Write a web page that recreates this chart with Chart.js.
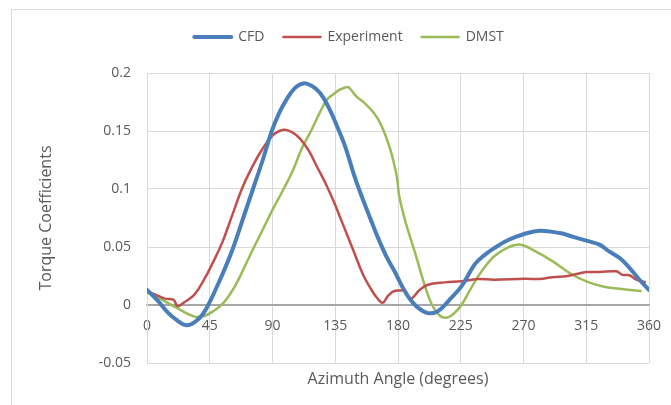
<!DOCTYPE html>
<html>
<head>
<meta charset="utf-8">
<script src="https://cdn.jsdelivr.net/npm/chart.js@4"></script>
<style>
  html, body { margin: 0; padding: 0; background: #ffffff; }
  #wrap { width: 671px; height: 405px; }
</style>
</head>
<body>
<div id="wrap"><canvas id="c" width="671" height="405"></canvas></div>
<script>
const seriesNames = ['CFD', 'Experiment', 'DMST'];

const cfdAngles = [0, 8, 15, 22, 28, 34, 40, 46, 50, 55, 62, 69, 76, 83, 89.5, 95, 100, 106, 112, 118, 124, 130, 136, 142, 148, 152, 160, 166, 172, 178, 183, 188, 194, 201.5, 209, 218, 225.5, 235, 242, 249, 259, 270, 281.5, 296, 305, 315, 324.5, 331.7, 339, 346, 353, 360];
const cfdValues = [0.013, 0.0034, -0.0066, -0.0137, -0.0175, -0.015, -0.008, 0.005, 0.0155, 0.029, 0.05, 0.075, 0.1, 0.125, 0.15, 0.166, 0.177, 0.187, 0.191, 0.189, 0.183, 0.171, 0.155, 0.137, 0.114, 0.1, 0.075, 0.057, 0.041, 0.028, 0.016, 0.006, -0.002, -0.007, -0.005, 0.006, 0.016, 0.035, 0.043, 0.049, 0.056, 0.061, 0.064, 0.062, 0.059, 0.0555, 0.052, 0.046, 0.0405, 0.032, 0.022, 0.013];

const expAngles = [0, 6, 13, 19, 22, 27, 34, 41, 47, 54, 61, 68, 75, 82, 90, 98, 104, 110, 116, 122, 128, 134, 140, 148, 155, 160, 165, 169, 173, 177, 181, 185, 189, 195.5, 201.5, 213.5, 225.5, 237, 249, 271, 281.5, 291, 300.6, 308, 315, 324.5, 336.5, 341, 346, 351, 357];
const expValues = [0.012, 0.009, 0.0055, 0.0045, -0.001, 0.0026, 0.009, 0.022, 0.036, 0.054, 0.077, 0.1, 0.118, 0.133, 0.146, 0.151, 0.149, 0.143, 0.133, 0.119, 0.105, 0.089, 0.071, 0.047, 0.026, 0.015, 0.006, 0.002, 0.008, 0.012, 0.0125, 0.012, 0.0055, 0.013, 0.0175, 0.0195, 0.0204, 0.0224, 0.0218, 0.0227, 0.0224, 0.024, 0.0247, 0.0267, 0.0284, 0.0284, 0.029, 0.026, 0.0256, 0.0218, 0.0198];

const dmstAngles = [0, 10, 22, 34, 41, 48, 55, 63, 70, 76, 83, 90, 98, 105, 111, 118, 124, 129, 134, 139, 144, 146, 150, 157, 163, 168, 174, 177.5, 179.5, 181, 186, 192, 199, 204, 209, 214, 219.5, 225.5, 232.6, 240, 249, 259, 268, 279, 291, 303, 315, 327, 339, 354];
const dmstValues = [0.011, 0.005, -0.003, -0.010, -0.0095, -0.005, 0.002, 0.016, 0.033, 0.048, 0.065, 0.082, 0.1, 0.117, 0.135, 0.151, 0.166, 0.177, 0.182, 0.186, 0.188, 0.186, 0.180, 0.173, 0.165, 0.155, 0.136, 0.12, 0.108, 0.093, 0.069, 0.046, 0.0175, 0.001, -0.008, -0.011, -0.008, 0.000, 0.015, 0.029, 0.042, 0.0497, 0.052, 0.046, 0.0376, 0.0276, 0.0204, 0.016, 0.014, 0.012];

const xTickValues = [0, 45, 90, 135, 180, 225, 270, 315, 360];
const xTickLabels = ['0', '45', '90', '135', '180', '225', '270', '315', '360'];
const yTickValues = [-0.05, 0, 0.05, 0.1, 0.15, 0.2];
const yTickLabels = ['-0.05', '0', '0.05', '0.1', '0.15', '0.2'];

const xTitle = 'Azimuth Angle (degrees)';
const yTitle = 'Torque Coefficients';

function pairs(xs, ys) { return xs.map((x, i) => ({ x: x, y: ys[i] })); }

const TEXT = '#595959';
const GRID = '#d9d9d9';
const FONT = "'Open Sans', 'Noto Sans', sans-serif";

const frameAndTitles = {
  id: 'frameAndTitles',
  beforeDraw(chart) {
    const ctx = chart.ctx;
    ctx.save();
    ctx.strokeStyle = GRID;
    ctx.lineWidth = 1;
    ctx.strokeRect(11.5, 9.5, 760, 500);
    ctx.restore();
  },
  afterDraw(chart) {
    const ctx = chart.ctx;
    const a = chart.chartArea;
    ctx.save();
    ctx.fillStyle = TEXT;
    ctx.font = "16px " + FONT;
    ctx.textAlign = 'center';
    ctx.textBaseline = 'middle';
    ctx.fillText(xTitle, (a.left + a.right) / 2, 379);
    ctx.translate(46, (a.top + a.bottom) / 2);
    ctx.rotate(-Math.PI / 2);
    ctx.fillText(yTitle, 0, 0);
    ctx.restore();
  }
};

const colors = ['#4a7ebb', '#c0504d', '#9bbb59'];
const widths = [4, 2.5, 2.5];
const dataSets = [pairs(cfdAngles, cfdValues), pairs(expAngles, expValues), pairs(dmstAngles, dmstValues)];

new Chart(document.getElementById('c'), {
  type: 'line',
  data: {
    datasets: seriesNames.map((name, i) => ({
      label: name,
      data: dataSets[i],
      borderColor: colors[i],
      backgroundColor: colors[i],
      borderWidth: widths[i],
      pointRadius: 0,
      pointHoverRadius: 0,
      fill: false,
      tension: 0.4,
      borderCapStyle: 'round',
      borderJoinStyle: 'round'
    }))
  },
  options: {
    responsive: false,
    animation: false,
    devicePixelRatio: 1,
    layout: { padding: { left: 49, right: 22, top: 11, bottom: 42 } },
    plugins: {
      legend: {
        display: true,
        position: 'top',
        align: 'center',
        weight: 1000,
        labels: {
          usePointStyle: true,
          pointStyle: 'line',
          pointStyleWidth: 37,
          padding: 19,
          color: TEXT,
          font: { family: FONT, size: 14 },
          generateLabels(chart) {
            return chart.data.datasets.map((ds, i) => ({
              text: ds.label,
              fillStyle: ds.borderColor,
              strokeStyle: ds.borderColor,
              lineWidth: ds.borderWidth,
              lineCap: 'round',
              pointStyle: 'line',
              hidden: false,
              fontColor: TEXT,
              datasetIndex: i
            }));
          }
        }
      },
      title: {
        display: true,
        text: ' ',
        position: 'top',
        weight: 500,
        font: { size: 5, lineHeight: 1 },
        padding: { top: 2, bottom: 12 }
      },
      tooltip: { enabled: false }
    },
    scales: {
      x: {
        type: 'linear',
        min: 0,
        max: 360,
        position: { y: 0 },
        afterFit(scale) { scale.height = 0; scale.paddingLeft = 0; scale.paddingRight = 0; },
        afterBuildTicks(scale) { scale.ticks = xTickValues.map(v => ({ value: v })); },
        grid: { color: GRID, lineWidth: 1, drawTicks: false },
        border: { display: true, color: '#a6a6a6', width: 1.3 },
        ticks: {
          autoSkip: false,
          maxRotation: 0,
          padding: 13,
          color: TEXT,
          font: { family: FONT, size: 14 },
          callback: (v, i) => xTickLabels[i]
        },
        title: { display: false }
      },
      y: {
        type: 'linear',
        min: -0.05,
        max: 0.2,
        position: 'left',
        afterFit(scale) { scale.width = 98; },
        afterBuildTicks(scale) { scale.ticks = yTickValues.map(v => ({ value: v })); },
        grid: {
          color: (c) => (c.tick && c.tick.value === 0 ? '#a6a6a6' : GRID),
          lineWidth: 1,
          drawTicks: false
        },
        border: { display: true, color: GRID },
        ticks: {
          padding: 16,
          color: TEXT,
          font: { family: FONT, size: 14 },
          callback: (v, i) => yTickLabels[i]
        },
        title: { display: false }
      }
    }
  },
  plugins: [frameAndTitles]
});
</script>
</body>
</html>
